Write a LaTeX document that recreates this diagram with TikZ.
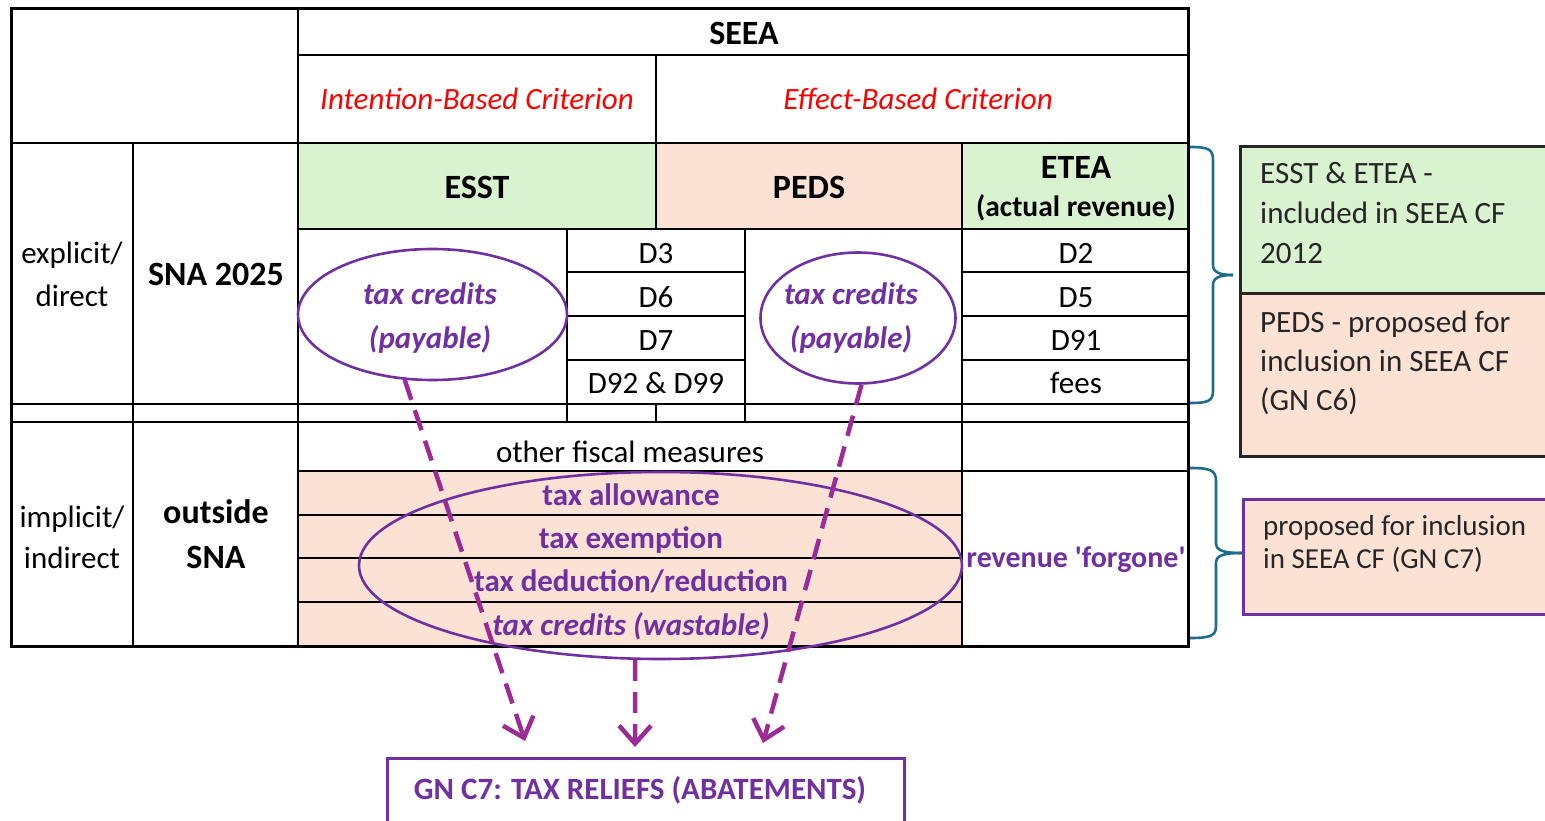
\documentclass[tikz,border=0pt]{standalone}
\usepackage{fontspec}
\setmainfont{Carlito}[Ligatures=TeXOff]
\usetikzlibrary{shapes.geometric,arrows.meta}
\definecolor{cgreen}{HTML}{D9F2D0}
\definecolor{cpink}{HTML}{FBE2D5}
\definecolor{cpurple}{HTML}{7030A0}
\definecolor{carrow}{HTML}{9C2A97}
\definecolor{cbrace}{HTML}{1F6B8E}
\definecolor{cred}{HTML}{FF0000}
\definecolor{cdark}{HTML}{262626}
\begin{document}
\begin{tikzpicture}[x=1pt,y=-1pt,
  grid/.style={line width=1.4pt, black},
  frame/.style={line width=3pt, black},
  txt/.style={font=\fontsize{31}{37}\selectfont, inner sep=0pt, anchor=base},
  head/.style={txt, font=\fontsize{34}{40}\selectfont\bfseries},
  crit/.style={txt, font=\fontsize{31}{37}\selectfont\itshape, text=cred},
  pur/.style={txt, font=\fontsize{31}{37}\selectfont\bfseries, text=cpurple},
  puri/.style={txt, font=\fontsize{31}{37}\selectfont\bfseries\itshape, text=cpurple},
  note/.style={txt, anchor=base west, text=black!85},
  oval/.style={ellipse, draw=cpurple, line width=2.6pt, inner sep=0pt},
  arr/.style={draw=carrow, line width=4.5pt, dash pattern=on 21pt off 11pt,
    -{Straight Barb[length=18pt,width=32pt,line width=4.5pt]}},
  brace/.style={draw=cbrace, line width=2.6pt},
  sidebox/.style={draw=cdark, line width=3pt, inner sep=0pt, anchor=north west},
]
\useasboundingbox (0,0) rectangle (1545,821);

% fills
\fill[cgreen] (298,143) rectangle (656,229);
\fill[cpink] (656,143) rectangle (962,229);
\fill[cgreen] (962,143) rectangle (1188,229);
\fill[cpink] (298,471) rectangle (962,646);

% grid
\draw[grid] (298,55) -- (1188,55);
\draw[grid] (11,143) -- (1188,143);
\draw[grid] (298,229) -- (1188,229);
\foreach \yy in {272,316,360} {
  \draw[grid] (567,\yy) -- (745,\yy);
  \draw[grid] (962,\yy) -- (1188,\yy);
}
\draw[grid] (11,404) -- (1188,404);
\draw[grid] (11,422) -- (1188,422);
\draw[grid] (298,471) -- (1188,471);
\foreach \yy in {515,558,602} { \draw[grid] (298,\yy) -- (962,\yy); }
\draw[grid] (133,143) -- (133,646);
\draw[grid] (298,9) -- (298,646);
\draw[grid] (656,55) -- (656,229);
\draw[grid] (567,229) -- (567,422);
\draw[grid] (745,229) -- (745,422);
\draw[grid] (656,404) -- (656,422);
\draw[grid] (962,143) -- (962,646);
\draw[frame] (11,9) rectangle (1188,646);

% header texts
\node[head] (seea) at (744,45) {SEEA};
\node[crit] (ibc) at (477,110) {Intention-Based Criterion};
\node[crit] (ebc) at (918,110) {Effect-Based Criterion};
\node[head] (esst) at (477,199) {ESST};
\node[head] (peds) at (809,199) {PEDS};
\node[head] (etea) at (1076,179) {ETEA};
\node[txt, font=\fontsize{29.5}{35}\selectfont\bfseries] (actrev) at (1076,217) {(actual revenue)};

% explicit rows
\node[txt] (expl) at (72,263) {explicit/};
\node[txt] (dir) at (72,306) {direct};
\node[head] (sna) at (216,285) {SNA 2025};
\node[puri] (ltc1) at (430,304) {tax credits};
\node[puri] (ltc2) at (430,348) {(payable)};
\node[txt] (d3) at (656,263) {D3};
\node[txt] (d6) at (656,307) {D6};
\node[txt] (d7) at (656,350) {D7};
\node[txt] (d92) at (656,393) {D92 \& D99};
\node[puri] (rtc1) at (851,304) {tax credits};
\node[puri] (rtc2) at (851,348) {(payable)};
\node[txt] (d2) at (1076,263) {D2};
\node[txt] (d5) at (1076,307) {D5};
\node[txt] (d91) at (1076,350) {D91};
\node[txt] (fees) at (1076,393) {fees};

% implicit rows
\node[txt] (impl) at (72,527) {implicit/};
\node[txt] (indir) at (72,568) {indirect};
\node[head] (outs) at (216,523) {outside};
\node[head] (snb) at (216,568) {SNA};
\node[txt] (ofm) at (630,462) {other fiscal measures};
\node[pur] (tall) at (631,505) {tax allowance};
\node[pur] (texe) at (631,548) {tax exemption};
\node[pur] (tded) at (631,591) {tax deduction/reduction};
\node[puri] (twas) at (631,635) {tax credits (wastable)};
\node[pur, font=\fontsize{30}{36}\selectfont\bfseries] (rev) at (1076,567) {revenue 'forgone'};

% ovals
\node[oval, minimum width=269pt, minimum height=131pt] (lov) at (432.5,314.5) {};
\node[oval, minimum width=195pt, minimum height=131pt] (rov) at (858,318) {};
\node[oval, minimum width=603pt, minimum height=187pt] (bov) at (660.5,565.5) {};

% braces
\draw[brace] (1190,147) .. controls (1208,147) and (1213,149) .. (1213,160) -- (1213,265)
  .. controls (1213,272) and (1219,275) .. (1233,275);
\draw[brace] (1233,275) .. controls (1219,275) and (1213,278) .. (1213,285) -- (1213,391)
  .. controls (1213,401) and (1208,403) .. (1190,403);
\draw[brace] (1190,468) .. controls (1210,468) and (1216,470) .. (1216,481) -- (1216,543)
  .. controls (1216,550) and (1222,553) .. (1242,553);
\draw[brace] (1242,553) .. controls (1222,553) and (1216,556) .. (1216,563) -- (1216,626)
  .. controls (1216,636) and (1210,638) .. (1190,638);

% side boxes
\node[sidebox, fill=cgreen, minimum width=320pt, minimum height=147pt] (gbox) at (1239,145) {};
\node[sidebox, fill=cpink, minimum width=320pt, minimum height=163pt] (pbox) at (1239,292) {};
\node[sidebox, draw=cpurple, fill=cpink, minimum width=320pt, minimum height=115pt] (cbox) at (1242,498) {};
\node[note] (n1) at (1260,184) {ESST \& ETEA -};
\node[note] (n2) at (1260,224) {included in SEEA CF};
\node[note] (n3) at (1260,263) {2012};
\node[note] (n4) at (1260,332) {PEDS - proposed for};
\node[note] (n5) at (1260,371) {inclusion in SEEA CF};
\node[note] (n6) at (1260,410) {(GN C6)};
\node[note, font=\fontsize{29}{35}\selectfont] (n7) at (1263,535) {proposed for inclusion};
\node[note, font=\fontsize{29}{35}\selectfont] (n8) at (1263,568) {in SEEA CF (GN C7)};

% bottom box
\node[draw=cpurple, line width=3pt, minimum width=517pt, minimum height=66pt, inner sep=0pt] (gn) at (645.5,791) {};
\node[pur] (gnt) at (640,799) {GN C7: TAX RELIEFS (ABATEMENTS)};

% arrows
\coordinate (t1) at (525,741);
\coordinate (t2) at (635,747);
\coordinate (t3) at (763,743);
\draw[arr] (lov.247) -- (t1);
\draw[arr] (bov.255) -- (t2);
\draw[arr] (rov.273) -- (t3);
\end{tikzpicture}
\end{document}
